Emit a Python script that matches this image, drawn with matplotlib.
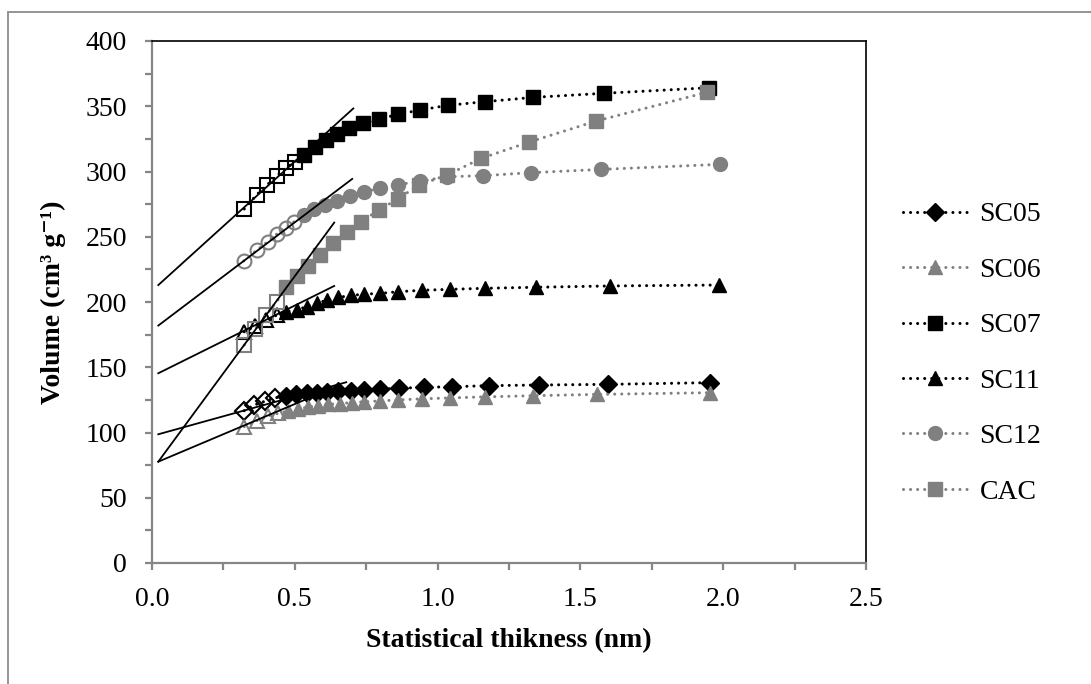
import numpy as np
import matplotlib
matplotlib.use('Agg')
import matplotlib.pyplot as plt
from matplotlib.patches import Rectangle
from matplotlib.ticker import MultipleLocator, FormatStrFormatter

# t-plot data: statistical thickness (nm) vs adsorbed volume (cm3/g)
names = ['SC05', 'SC06', 'SC07', 'SC11', 'SC12', 'CAC']

t_sc05 = [0.323, 0.357, 0.396, 0.431, 0.468, 0.505, 0.541, 0.577, 0.614, 0.652,
          0.696, 0.742, 0.798, 0.865, 0.951, 1.051, 1.181, 1.356, 1.598, 1.954]
v_sc05 = [116.7, 121.0, 124.0, 126.5, 128.3, 129.2, 130.0, 130.6, 131.1, 131.6,
          132.1, 132.6, 133.2, 133.9, 134.6, 135.1, 135.9, 136.4, 136.9, 138.2]

t_sc06 = [0.323, 0.367, 0.407, 0.442, 0.477, 0.512, 0.547, 0.582, 0.617, 0.658,
          0.699, 0.742, 0.798, 0.863, 0.946, 1.043, 1.165, 1.335, 1.557, 1.954]
v_sc06 = [104.5, 109.0, 112.6, 114.7, 116.5, 118.0, 119.5, 120.6, 121.5, 122.2,
          122.9, 123.5, 124.2, 125.0, 125.8, 126.5, 127.3, 128.2, 129.2, 130.5]

t_sc07 = [0.323, 0.367, 0.404, 0.437, 0.468, 0.501, 0.533, 0.571, 0.608, 0.647,
          0.690, 0.740, 0.796, 0.862, 0.938, 1.036, 1.166, 1.335, 1.581, 1.952]
v_sc07 = [271.3, 282.3, 289.9, 296.6, 302.4, 307.5, 312.6, 318.5, 324.1, 328.7,
          333.1, 336.9, 340.2, 343.8, 347.1, 350.7, 353.5, 356.8, 359.9, 364.2]

t_sc11 = [0.323, 0.361, 0.399, 0.437, 0.470, 0.507, 0.541, 0.577, 0.614, 0.652,
          0.696, 0.742, 0.798, 0.863, 0.946, 1.043, 1.165, 1.344, 1.604, 1.984]
v_sc11 = [177.2, 181.6, 186.0, 190.0, 192.6, 194.0, 196.4, 199.0, 201.5, 203.5,
          205.0, 206.0, 206.6, 207.9, 209.0, 209.7, 210.5, 211.3, 212.3, 213.0]

t_sc12 = [0.321, 0.367, 0.405, 0.437, 0.469, 0.498, 0.532, 0.567, 0.606, 0.647,
          0.693, 0.743, 0.798, 0.862, 0.938, 1.034, 1.159, 1.327, 1.573, 1.990]
v_sc12 = [231.4, 239.8, 246.2, 252.1, 257.0, 261.6, 266.7, 271.0, 274.3, 277.6,
          281.2, 284.5, 287.1, 290.0, 292.5, 296.0, 296.8, 299.1, 301.6, 305.5]

t_cac = [0.323, 0.361, 0.399, 0.437, 0.470, 0.507, 0.547, 0.588, 0.633, 0.682,
         0.731, 0.796, 0.860, 0.936, 1.033, 1.153, 1.321, 1.556, 1.943]
v_cac = [167.0, 179.0, 190.0, 200.3, 211.5, 220.0, 227.6, 236.0, 245.0, 254.0,
         261.6, 270.5, 279.0, 289.7, 297.3, 310.1, 322.6, 338.7, 360.7]

# number of points used for the linear fit (drawn as open markers)
n_open = [4, 4, 6, 4, 6, 4]

# linear fit lines: intercept, slope, x range
fit_b = [97.3, 75.6, 208.6, 143.0, 178.3, 71.1]
fit_m = [60.6, 92.4, 198.2, 108.6, 165.5, 297.4]
fit_x0 = [0.022, 0.022, 0.022, 0.022, 0.022, 0.022]
fit_x1 = [0.68, 0.60, 0.705, 0.638, 0.701, 0.638]

xs = [t_sc05, t_sc06, t_sc07, t_sc11, t_sc12, t_cac]
ys = [v_sc05, v_sc06, v_sc07, v_sc11, v_sc12, v_cac]
colors = ['#000000', '#808080', '#000000', '#000000', '#808080', '#808080']
markers = ['D', '^', 's', '^', 'o', 's']
msizes = [9.5, 10.5, 10, 10.5, 10, 10]

plt.rcParams['font.family'] = ['Liberation Serif', 'DejaVu Serif']

fig = plt.figure(figsize=(10.91, 6.84), dpi=100)
ax = fig.add_axes([152 / 1091, 1 - 563 / 684, (866 - 152) / 1091, (563 - 41) / 684])

dots = (0, (0.01, 2.3))
handles = []
for i in range(len(names)):
    x = np.array(xs[i])
    y = np.array(ys[i])
    c = colors[i]
    k = n_open[i]
    h, = ax.plot(x, y, linestyle=dots, dash_capstyle='round', lw=2.2, color=c,
                 marker=markers[i], ms=msizes[i], mfc=c, mec=c,
                 markevery=slice(k, None), label=names[i], zorder=3)
    ax.plot(x[:k], y[:k], linestyle='none', marker=markers[i], ms=msizes[i],
            mfc='none', mec=c, mew=1.5, zorder=3)
    handles.append(h)

for i in range(len(names)):
    fx = np.array([fit_x0[i], fit_x1[i]])
    ax.plot(fx, fit_b[i] + fit_m[i] * fx, color='black', lw=1.3, zorder=4)

ax.set_xlim(0, 2.5)
ax.set_ylim(0, 400)
ax.xaxis.set_major_locator(MultipleLocator(0.5))
ax.xaxis.set_minor_locator(MultipleLocator(0.25))
ax.yaxis.set_major_locator(MultipleLocator(50))
ax.yaxis.set_minor_locator(MultipleLocator(25))
ax.xaxis.set_major_formatter(FormatStrFormatter('%.1f'))

for s in ['left', 'bottom']:
    ax.spines[s].set_color('#868686')
    ax.spines[s].set_linewidth(1.6)
for s in ['top', 'right']:
    ax.spines[s].set_color('black')
    ax.spines[s].set_linewidth(1.2)

ax.tick_params(axis='both', which='both', direction='out', length=5, width=1.6,
               color='#868686', labelsize=20, top=False, right=False)
ax.tick_params(axis='y', which='major', pad=13)
ax.tick_params(axis='x', which='major', pad=12)

ax.set_xlabel('Statistical thikness (nm)', fontsize=20, fontweight='bold', labelpad=12)
ax.set_ylabel('Volume (cm\u00b3 g\u207b\u00b9)', fontsize=20,
              fontweight='bold', labelpad=14)

fig.legend(handles=handles, loc='upper left', bbox_to_anchor=(903 / 1091, 1 - 202 / 684),
           frameon=False, fontsize=20, handlelength=2.3, handletextpad=0.45,
           labelspacing=1.08, borderpad=0, borderaxespad=0, numpoints=1)

fig.patches.append(Rectangle((8 / 1091, -0.1), 1.2, (684 - 12) / 684 + 0.1,
                             transform=fig.transFigure, fill=False,
                             ec='#8c8c8c', lw=1.3))

fig.savefig('out.png', dpi=100)
